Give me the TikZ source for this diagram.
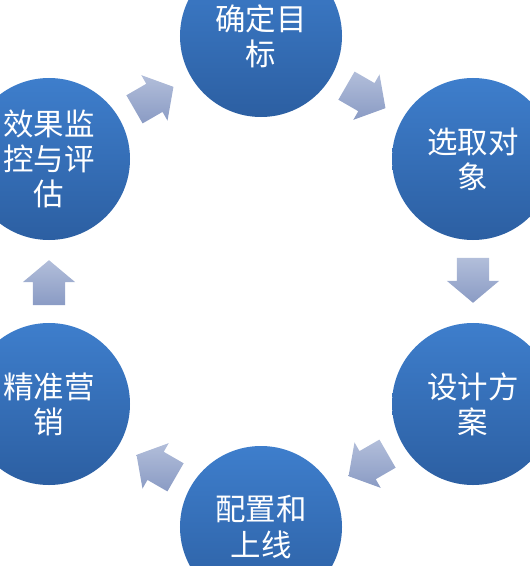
\documentclass[tikz,border=0pt]{standalone}
\usepackage{fontspec}
\setmainfont{Noto Sans CJK SC}
\usetikzlibrary{shapes.arrows,calc}

\definecolor{stagetop}{RGB}{62,126,204}
\definecolor{stagebot}{RGB}{44,95,162}
\definecolor{turnlight}{RGB}{178,190,218}
\definecolor{turndark}{RGB}{138,155,196}

\begin{document}
\begin{tikzpicture}[
    x = 0.03cm,
    y = -0.03cm,
    stage/.style = {
      circle,
      top color = stagetop,
      bottom color = stagebot,
      text = white,
      minimum size = 4.86cm,
      inner sep = 0pt,
      align = center,
      font = \fontsize{26}{30}\selectfont
    },
    turn/.style = {
      single arrow,
      top color = turnlight,
      bottom color = turndark,
      minimum height = 1.35cm,
      inner xsep = 0pt,
      inner ysep = 0.48cm,
      single arrow head extend = 0.3cm,
      single arrow tip angle = 100,
      rotate = #1,
      xshift = -0.24cm
    }
  ]
  \useasboundingbox (0,0) rectangle (529,566);

  \node[stage] (goal)    at (261,36)  {确定目\\标};
  \node[stage] (target)  at (473,159) {选取对\\象};
  \node[stage] (design)  at (473,404) {设计方\\案};
  \node[stage] (deploy)  at (261,527) {配置和\\上线};
  \node[stage] (market)  at (49,404)  {精准营\\销};
  \node[stage] (monitor) at (49,159)  {效果监\\控与评\\估};

  \node[turn=-30] (a1) at ($(goal)!0.5!(target)$) {};
  \node[turn=-90] (a2) at ($(target)!0.5!(design)$) {};
  \node[turn=210] (a3) at ($(design)!0.5!(deploy)$) {};
  \node[turn=150] (a4) at ($(deploy)!0.5!(market)$) {};
  \node[turn=90]  (a5) at ($(market)!0.5!(monitor)$) {};
  \node[turn=30]  (a6) at ($(monitor)!0.5!(goal)$) {};

\end{tikzpicture}
\end{document}
